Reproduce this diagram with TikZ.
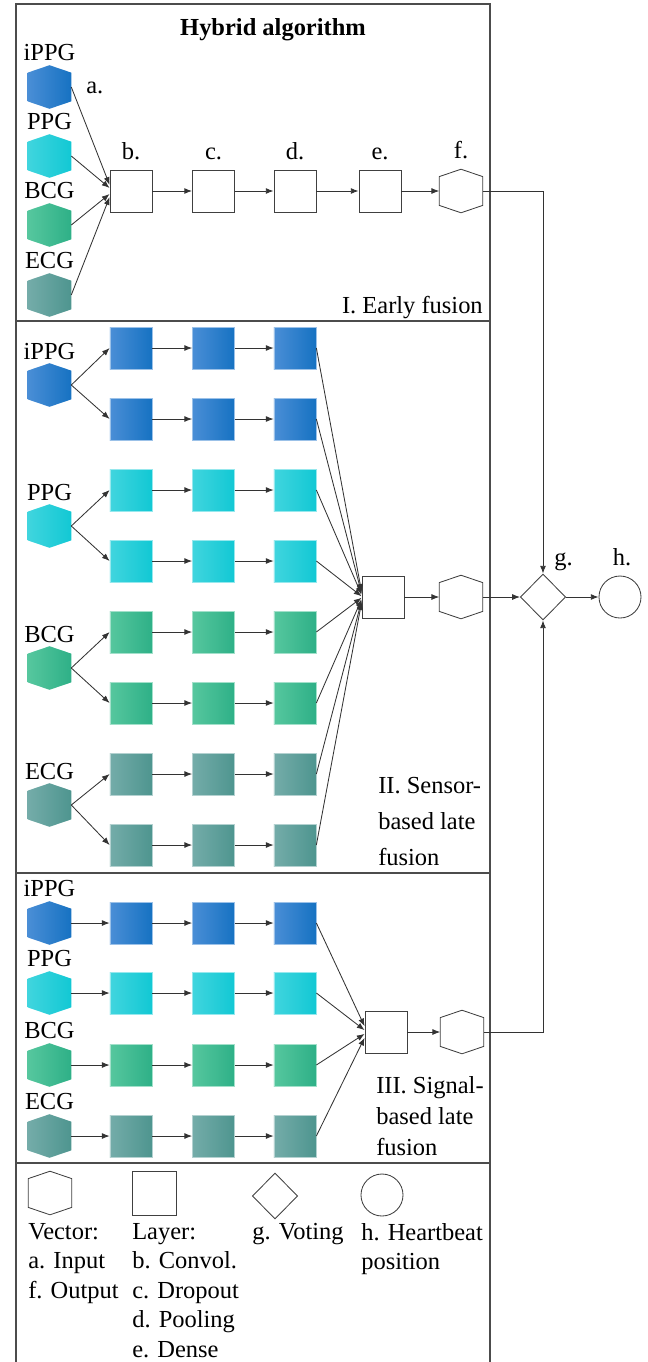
\documentclass[tikz,border=0pt]{standalone}
\usepackage{fontspec}
\setmainfont{Liberation Serif}
\usetikzlibrary{shapes.geometric, arrows.meta, positioning, calc}

\definecolor{ippgL}{HTML}{4A8ED6}
\definecolor{ippgR}{HTML}{1672C2}
\definecolor{ppgL}{HTML}{40D5DE}
\definecolor{ppgR}{HTML}{12C8D4}
\definecolor{bcgL}{HTML}{56C79E}
\definecolor{bcgR}{HTML}{2EB087}
\definecolor{ecgL}{HTML}{74ACA9}
\definecolor{ecgR}{HTML}{4E958F}

% outline of a flattened hexagon on a node
\newcommand{\hexpath}[1]{(#1.north) -- ($(#1.north east)!.17!(#1.south east)$) -- ($(#1.north east)!.83!(#1.south east)$) -- (#1.south) -- ($(#1.north west)!.83!(#1.south west)$) -- ($(#1.north west)!.17!(#1.south west)$) -- cycle}

\begin{document}
\begin{tikzpicture}[
    x=0.025cm, y=-0.025cm,
    font=\fontsize{17.4}{21}\selectfont,
    box/.style={rectangle, draw=black!75, line width=0.6pt, minimum size=1.05cm, inner sep=0pt},
    cbox/.style 2 args={rectangle, draw=#1!55!white, line width=0.5pt, left color=#1, right color=#2, minimum size=1.05cm, inner sep=0pt},
    hexbase/.style={rectangle, minimum width=1.075cm, minimum height=1.075cm, inner sep=0pt},
    hexo/.style={hexbase, append after command={\pgfextra{\draw[black!75, line width=0.6pt] \hexpath{\tikzlastnode};}}},
    hexc/.style 2 args={hexbase, append after command={\pgfextra{\shade[left color=#1, right color=#2] \hexpath{\tikzlastnode};}}},
    votebox/.style={diamond, draw=black!75, line width=0.6pt, minimum width=1.13cm, minimum height=1.15cm, inner sep=0pt},
    beatbox/.style={circle, draw=black!75, line width=0.6pt, minimum size=1.05cm, inner sep=0pt},
    lbl/.style={inner sep=0pt},
    arrow/.style={-{Latex[length=5.5pt, width=4.2pt]}, draw=black!80, line width=0.6pt},
    frame/.style={draw=black!70, line width=0.8pt}
]
    \useasboundingbox (0,0) rectangle (648,1362);

    % frame and sections
    \draw[frame] (16,1362) -- (16,4) -- (490,4) -- (490,1362);
    \draw[frame] (16,321) -- (490,321);
    \draw[frame] (16,873) -- (490,873);
    \draw[frame] (16,1163) -- (490,1163);

    \node[lbl, anchor=base] (title) at (273,35) {\textbf{Hybrid algorithm}};

    % I. early fusion
    \node[hexc={ippgL}{ippgR}] (ippgA) at (49.5,87) {};
    \node[hexc={ppgL}{ppgR}] (ppgA) at (49.5,156) {};
    \node[hexc={bcgL}{bcgR}] (bcgA) at (49.5,225) {};
    \node[hexc={ecgL}{ecgR}] (ecgA) at (49.5,295) {};
    \node[lbl, above=3pt of ippgA] {iPPG};
    \node[lbl, above=3pt of ppgA] {PPG};
    \node[lbl, above=3pt of bcgA] {BCG};
    \node[lbl, above=3pt of ecgA] {ECG};
    \node[lbl, anchor=base west] (inlbl) at (86,93) {a.};

    \node[box] (conv) at (131,191) {};
    \node[box] (drop) at (213.5,191) {};
    \node[box] (pool) at (295,191) {};
    \node[box] (dense) at (380,191) {};
    \node[hexo] (outA) at (461,191) {};
    \node[lbl, above=7pt of conv] {b.};
    \node[lbl, above=7pt of drop] {c.};
    \node[lbl, above=7pt of pool] {d.};
    \node[lbl, above=7pt of dense] {e.};
    \node[lbl, above=7pt of outA] {f.};

    \draw[arrow] (ippgA.east) -- (conv.164);
    \draw[arrow] (ppgA.east) -- (conv.172);
    \draw[arrow] (bcgA.east) -- (conv.188);
    \draw[arrow] (ecgA.east) -- (conv.196);
    \draw[arrow] (conv) -- (drop);
    \draw[arrow] (drop) -- (pool);
    \draw[arrow] (pool) -- (dense);
    \draw[arrow] (dense) -- (outA);

    \node[lbl, anchor=base east] (early) at (483,313) {I. Early fusion};

    % II. sensor-based late fusion
    \node[hexc={ippgL}{ippgR}] (ippgB) at (49.5,385) {};
    \node[hexc={ppgL}{ppgR}] (ppgB) at (49.5,526) {};
    \node[hexc={bcgL}{bcgR}] (bcgB) at (49.5,668) {};
    \node[hexc={ecgL}{ecgR}] (ecgB) at (49.5,805) {};
    \node[lbl, above=2.5pt of ippgB] {iPPG};
    \node[lbl, above=2.5pt of ppgB] {PPG};
    \node[lbl, above=2.5pt of bcgB] {BCG};
    \node[lbl, above=2.5pt of ecgB] {ECG};

    \node[box] (fuseB) at (383,597) {};
    \node[hexo] (outB) at (461,597) {};

    \foreach \r/\y/\ca/\cb in {1/348/ippgL/ippgR, 2/419/ippgL/ippgR, 3/490/ppgL/ppgR, 4/561/ppgL/ppgR,
                              5/632/bcgL/bcgR, 6/703/bcgL/bcgR, 7/774/ecgL/ecgR, 8/845/ecgL/ecgR} {
        \node[cbox={\ca}{\cb}] (s\r a) at (131,\y) {};
        \node[cbox={\ca}{\cb}] (s\r b) at (213.5,\y) {};
        \node[cbox={\ca}{\cb}] (s\r c) at (295,\y) {};
        \draw[arrow] (s\r a) -- (s\r b);
        \draw[arrow] (s\r b) -- (s\r c);
        \pgfmathtruncatemacro{\ang}{166+4*(\r-1)}
        \draw[arrow] (s\r c.east) -- (fuseB.\ang);
    }
    \draw[arrow] (ippgB.east) -- (s1a.west);
    \draw[arrow] (ippgB.east) -- (s2a.west);
    \draw[arrow] (ppgB.east) -- (s3a.west);
    \draw[arrow] (ppgB.east) -- (s4a.west);
    \draw[arrow] (bcgB.east) -- (s5a.west);
    \draw[arrow] (bcgB.east) -- (s6a.west);
    \draw[arrow] (ecgB.east) -- (s7a.west);
    \draw[arrow] (ecgB.east) -- (s8a.west);
    \draw[arrow] (fuseB) -- (outB);

    \node[lbl, anchor=south west, align=left, font=\fontsize{17.4}{25.5}\selectfont] (sensor) at (378,866) {II. Sensor-\\based late\\fusion};

    % III. signal-based late fusion
    \node[hexc={ippgL}{ippgR}] (ippgC) at (49.5,923) {};
    \node[hexc={ppgL}{ppgR}] (ppgC) at (49.5,993) {};
    \node[hexc={bcgL}{bcgR}] (bcgC) at (49.5,1065) {};
    \node[hexc={ecgL}{ecgR}] (ecgC) at (49.5,1136) {};
    \node[lbl, above=3pt of ippgC] {iPPG};
    \node[lbl, above=3pt of ppgC] {PPG};
    \node[lbl, above=3pt of bcgC] {BCG};
    \node[lbl, above=3pt of ecgC] {ECG};

    \node[box] (fuseC) at (386,1032) {};
    \node[hexo] (outC) at (462,1032) {};

    \foreach \r/\y/\src/\ca/\cb in {1/923/ippgC/ippgL/ippgR, 2/993/ppgC/ppgL/ppgR,
                                   3/1065/bcgC/bcgL/bcgR, 4/1136/ecgC/ecgL/ecgR} {
        \node[cbox={\ca}{\cb}] (t\r a) at (131,\y) {};
        \node[cbox={\ca}{\cb}] (t\r b) at (213.5,\y) {};
        \node[cbox={\ca}{\cb}] (t\r c) at (295,\y) {};
        \draw[arrow] (\src.east) -- (t\r a);
        \draw[arrow] (t\r a) -- (t\r b);
        \draw[arrow] (t\r b) -- (t\r c);
        \pgfmathtruncatemacro{\ang}{165+10*(\r-1)}
        \draw[arrow] (t\r c.east) -- (fuseC.\ang);
    }
    \draw[arrow] (fuseC) -- (outC);

    \node[lbl, anchor=south west, align=left, font=\fontsize{17.4}{22}\selectfont] (signal) at (376,1156) {III. Signal-\\based late\\fusion};

    % voting and heartbeat
    \node[votebox] (vote) at (543,597) {};
    \node[beatbox] (beat) at (620,597) {};
    \node[lbl, anchor=base west] at (554,565) {g.};
    \node[lbl, anchor=base] at (622,565) {h.};
    \draw[arrow] (outA.east) -| (vote.north);
    \draw[arrow] (outB) -- (vote);
    \draw[arrow] (outC.east) -| (vote.south);
    \draw[arrow] (vote) -- (beat);

    % legend
    \node[hexo] (legHex) at (50,1193) {};
    \node[box, minimum size=1.1cm] (legLayer) at (154.5,1193) {};
    \node[votebox] (legVote) at (275,1196) {};
    \node[beatbox] (legBeat) at (382,1195) {};
    \node[lbl, anchor=north west, align=left] at (28,1223) {Vector:\\a. Input\\f. Output};
    \node[lbl, anchor=north west, align=left] at (132,1223) {Layer:\\b. Convol.\\c. Dropout\\d. Pooling\\e. Dense};
    \node[lbl, anchor=north west, align=left] at (252,1223) {g. Voting};
    \node[lbl, anchor=north west, align=left] at (361,1223) {h. Heartbeat\\position};
\end{tikzpicture}
\end{document}
